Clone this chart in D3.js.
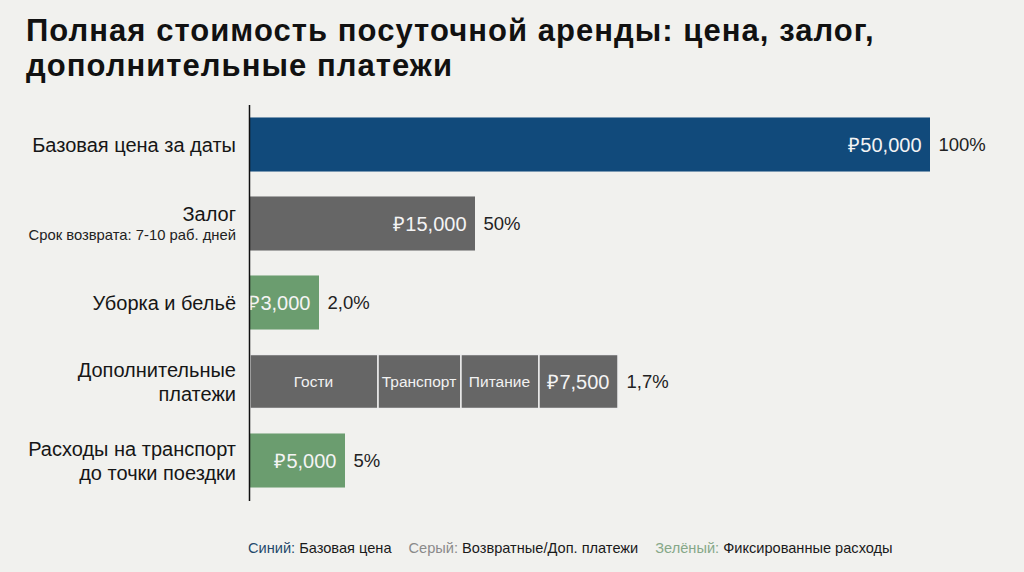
<!DOCTYPE html>
<html><head><meta charset="utf-8">
<script src="https://cdn.jsdelivr.net/npm/d3@7"></script>
<style>
html,body{margin:0;padding:0;background:#f1f1ee;}
svg{display:block;font-family:"Liberation Sans",Arial,Helvetica,sans-serif;}
</style></head>
<body>
<script>
// ---- data ----
const titleLines = ["Полная стоимость посуточной аренды: цена, залог,", "дополнительные платежи"];
const categories = ["base", "deposit", "cleaning", "extra", "travel"];
const categoryLabels = [["Базовая цена за даты"], ["Залог"], ["Уборка и бельё"], ["Дополнительные", "платежи"], ["Расходы на транспорт", "до точки поездки"]];
const categoryNotes = ["", "Срок возврата: 7-10 раб. дней", "", "", ""];
const groups = ["blue", "gray", "green", "gray", "green"];
// segment values per bar (the extra-payments bar is split into parts)
const segmentNames = [[""], [""], [""], ["Гости", "Транспорт", "Питание", ""], [""]];
const segmentValues = [[50000], [15000], [3000], [7540, 6380, 6000, 6080], [5000]];
const valueLabels = ["₽50,000", "₽15,000", "₽3,000", "₽7,500", "₽5,000"];
const percentLabels = ["100%", "50%", "2,0%", "1,7%", "5%"];
const legendNames = ["Синий:", "Серый:", "Зелёный:"];
const legendTexts = ["Базовая цена", "Возвратные/Доп. платежи", "Фиксированные расходы"];
const legendGroups = ["blue", "gray", "green"];

// ---- styles ----
const W = 1024, H = 572;
const colors = {blue: "#114a7b", gray: "#666666", green: "#6b9d6f"};
const legendColors = {blue: "#24496b", gray: "#8a8a8a", green: "#86a888"};
const axisX = 249.5;

const svg = d3.select("body").append("svg").attr("width", W).attr("height", H);
svg.append("rect").attr("width", W).attr("height", H).attr("fill", "#f1f1ee");

// title
svg.append("g").selectAll("text").data(titleLines).join("text")
  .attr("x", 26).attr("y", (d, i) => 41 + i * 35)
  .attr("font-size", 31).attr("font-weight", "bold").attr("letter-spacing", 1.05).attr("fill", "#111")
  .text(d => d);

// scales
const x = d3.scaleLinear().domain([0, 50000]).range([30, 680]);
const y = d3.scaleBand().domain(categories).range([105, 500]).paddingInner(0.316).paddingOuter(0.158);

const g = svg.append("g").attr("transform", `translate(${axisX},0)`);

categories.forEach((c, i) => {
  const vals = segmentValues[i];
  let cum = 0;
  const segs = vals.map((v, j) => {
    const start = j === 0 ? 0 : x(cum);
    cum += v;
    return {x0: start, x1: x(cum), name: segmentNames[i][j]};
  });
  const row = g.append("g");
  row.selectAll("rect").data(segs).join("rect")
    .attr("x", d => d.x0 + 0.5).attr("y", y(c))
    .attr("width", d => d.x1 - d.x0).attr("height", y.bandwidth())
    .attr("fill", colors[groups[i]])
    .attr("stroke", segs.length > 1 ? "#eeeeee" : "none")
    .attr("stroke-width", segs.length > 1 ? 1.5 : 0);
  row.selectAll("text.seg").data(segs.filter(d => d.name)).join("text")
    .attr("class", "seg")
    .attr("x", d => (d.x0 + d.x1) / 2).attr("y", y(c) + y.bandwidth() / 2 + 5.5)
    .attr("text-anchor", "middle").attr("font-size", 15.5).attr("fill", "#f2f2f2")
    .text(d => d.name);
  const end = x(cum);
  row.append("text").attr("x", end - 8).attr("y", y(c) + y.bandwidth() / 2 + 7)
    .attr("text-anchor", "end").attr("font-size", 20).attr("fill", "#f4f4f4")
    .text(valueLabels[i]);
  row.append("text").attr("x", end + 9).attr("y", y(c) + y.bandwidth() / 2 + 6.5)
    .attr("font-size", 18.5).attr("fill", "#222")
    .text(percentLabels[i]);

  // category label
  const lines = categoryLabels[i];
  const cy = y(c) + y.bandwidth() / 2;
  const note = categoryNotes[i];
  const lh = 24;
  let top;
  if (note) top = cy - 3;
  else top = cy - (lines.length - 1) * lh / 2 + 7;
  lines.forEach((t, k) => {
    svg.append("text").attr("x", 236).attr("y", top + k * lh)
      .attr("text-anchor", "end").attr("font-size", 20).attr("fill", "#161616").text(t);
  });
  if (note) {
    svg.append("text").attr("x", 236).attr("y", top + 19)
      .attr("text-anchor", "end").attr("font-size", 14.8).attr("fill", "#222").text(note);
  }
});

// axis line
svg.append("line").attr("x1", axisX).attr("x2", axisX).attr("y1", 105).attr("y2", 501)
  .attr("stroke", "#111").attr("stroke-width", 1.5);

// legend
const leg = svg.append("text").attr("x", 248).attr("y", 553).attr("font-size", 14.6);
legendNames.forEach((n, i) => {
  leg.append("tspan").attr("fill", legendColors[legendGroups[i]]).attr("dx", i === 0 ? 0 : 17).text(n + " ");
  leg.append("tspan").attr("fill", "#1a1a1a").text(legendTexts[i]);
});
</script>
</body></html>
